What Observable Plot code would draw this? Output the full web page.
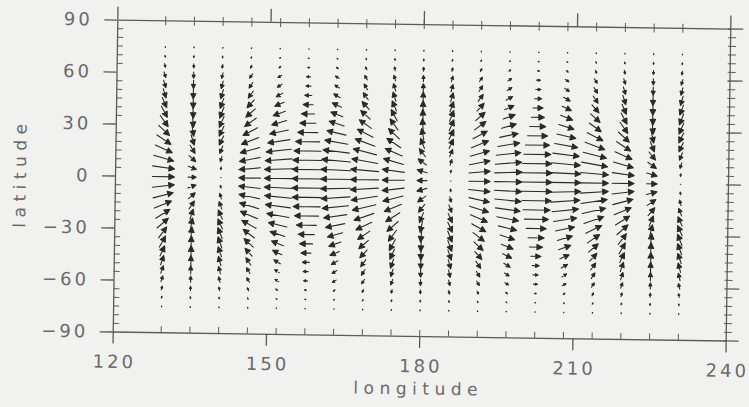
<!DOCTYPE html>
<html><head><meta charset="utf-8">
<script src="https://cdn.jsdelivr.net/npm/d3@7"></script>
<script src="https://cdn.jsdelivr.net/npm/@observablehq/plot@0.6"></script>
<style>
html,body{margin:0;padding:0;background:#f1f1ef;}
#chart{width:749px;height:407px;overflow:hidden;}
#chart svg{transform:rotate(0.84deg);transform-origin:421px 180px;}
</style></head><body><div id="chart"></div>
<script>
// grid (longitude columns, latitude rows from south to north)
const lons = [129.375,135,140.625,146.25,151.875,157.5,163.125,168.75,174.375,180,185.625,191.25,196.875,202.5,208.125,213.75,219.375,225,230.625];
const lats = [-74.9,-69.55,-64.2,-58.85,-53.5,-48.15,-42.8,-37.45,-32.1,-26.75,-21.4,-16.05,-10.7,-5.35,0,5.35,10.7,16.05,21.4,26.75,32.1,37.45,42.8,48.15,53.5,58.85,64.2,69.55,74.9];

// zonal component u per column (south -> north)
const u00 = [0.2,0.5,0.9,1.8,2.3,3,4.5,6,8,11,14,17,20,22,22,22,20,17,14,11,8,6,4.5,3,2.3,1.8,0.9,0.5,0.2];
const u01 = [0,0,0,0,0,0,0,0.4,0.9,1.9,3.2,5.1,6.7,8,8,8,6.7,5.1,3.2,1.9,0.9,0.4,0,0,0,0,0,0,0];
const u02 = [-0.2,-0.4,-0.7,-1.4,-1.8,-2.5,-3.5,-4.1,-4.5,-4.6,-4.2,-2.8,-1.5,-0.5,-0.4,-0.5,-1.5,-2.8,-4.2,-4.6,-4.5,-4.1,-3.5,-2.5,-1.8,-1.4,-0.7,-0.4,-0.2];
const u03 = [-0.4,-0.7,-1.4,-2.9,-3.6,-5,-7.1,-9.3,-11.4,-14.3,-17.2,-19.3,-20.7,-21.5,-21.5,-21.5,-20.7,-19.3,-17.2,-14.3,-11.4,-9.3,-7.1,-5,-3.6,-2.9,-1.4,-0.7,-0.4];
const u04 = [-0.5,-0.9,-1.9,-3.7,-4.6,-6.5,-9.3,-12,-14.8,-18.5,-22.2,-25,-26.8,-27.8,-27.8,-27.8,-26.8,-25,-22.2,-18.5,-14.8,-12,-9.3,-6.5,-4.6,-3.7,-1.9,-0.9,-0.5];
const u05 = [-0.5,-1,-2,-4,-5,-7,-10,-13,-16,-20,-24,-27,-29,-30,-30,-30,-29,-27,-24,-20,-16,-13,-10,-7,-5,-4,-2,-1,-0.5];
const u06 = [-0.5,-0.9,-1.8,-3.7,-4.6,-6.4,-9.2,-12,-15,-19,-23,-26.4,-28.7,-30,-30,-30,-28.7,-26.4,-23,-19,-15,-12,-9.2,-6.4,-4.6,-3.7,-1.8,-0.9,-0.5];
const u07 = [-0.4,-0.7,-1.4,-2.8,-3.6,-5,-7.1,-9.5,-12.1,-15.7,-19.7,-23.3,-26,-27.9,-27.9,-27.9,-26,-23.3,-19.7,-15.7,-12.1,-9.5,-7.1,-5,-3.6,-2.8,-1.4,-0.7,-0.4];
const u08 = [-0.2,-0.5,-0.9,-1.8,-2.3,-3,-4.5,-6,-8,-11,-14,-17,-20,-22,-22,-22,-20,-17,-14,-11,-8,-6,-4.5,-3,-2.3,-1.8,-0.9,-0.5,-0.2];
const u09 = [0,0,0,0,0,0,0,-0.4,-1.1,-2.3,-4,-6.2,-8.1,-9.9,-9.9,-9.9,-8.1,-6.2,-4,-2.3,-1.1,-0.4,0,0,0,0,0,0,0];
const u10 = [0.2,0.4,0.7,1.4,1.8,2.5,3.5,4.1,4.5,4.6,4.2,2.8,1.5,0.5,0.4,0.5,1.5,2.8,4.2,4.6,4.5,4.1,3.5,2.5,1.8,1.4,0.7,0.4,0.2];
const u11 = [0.4,0.7,1.4,2.8,3.5,4.9,7,9.2,11.3,14.1,16.9,19,20.4,21.2,21.2,21.2,20.4,19,16.9,14.1,11.3,9.2,7,4.9,3.5,2.8,1.4,0.7,0.4];
const u12 = [0.5,0.9,1.8,3.6,4.6,6.4,9.1,11.8,14.6,18.2,21.8,24.6,26.4,27.3,27.3,27.3,26.4,24.6,21.8,18.2,14.6,11.8,9.1,6.4,4.6,3.6,1.8,0.9,0.5];
const u13 = [0.5,1,2,4,5,7,10,13,16,20,24,27,29,30,30,30,29,27,24,20,16,13,10,7,5,4,2,1,0.5];
const u14 = [0.5,0.9,1.8,3.7,4.6,6.4,9.2,12,15,19,23,26.4,28.7,30,30,30,28.7,26.4,23,19,15,12,9.2,6.4,4.6,3.7,1.8,0.9,0.5];
const u15 = [0.4,0.7,1.4,2.8,3.6,5,7.1,9.5,12.1,15.7,19.7,23.3,26,27.9,27.9,27.9,26,23.3,19.7,15.7,12.1,9.5,7.1,5,3.6,2.8,1.4,0.7,0.4];
const u16 = [0.2,0.5,0.9,1.8,2.3,3,4.5,6,8,11,14,17,20,22,22,22,20,17,14,11,8,6,4.5,3,2.3,1.8,0.9,0.5,0.2];
const u17 = [0,0,0,0,0,0,0,0.5,1.1,2.5,4.2,6.6,8.6,10.5,10.5,10.5,8.6,6.6,4.2,2.5,1.1,0.5,0,0,0,0,0,0,0];
const u18 = [-0.2,-0.4,-0.7,-1.4,-1.8,-2.5,-3.5,-4.1,-4.5,-4.6,-4.2,-2.8,-1.5,-0.5,-0.4,-0.5,-1.5,-2.8,-4.2,-4.6,-4.5,-4.1,-3.5,-2.5,-1.8,-1.4,-0.7,-0.4,-0.2];
const uCols = [u00,u01,u02,u03,u04,u05,u06,u07,u08,u09,u10,u11,u12,u13,u14,u15,u16,u17,u18];

// meridional component v profiles (south -> north)
const vConvStrong = [1,2,4,6,8,10,11,12,12,11,10,8,6,3,0,-3,-6,-8,-10,-11,-12,-12,-11,-10,-8,-6,-4,-2,-1];
const vConv92 = [0.9,1.8,3.7,5.5,7.4,9.2,10,11,11,10,9.2,7.4,5.5,2.8,0,-2.8,-5.5,-7.4,-9.2,-10,-11,-11,-10,-9.2,-7.4,-5.5,-3.7,-1.8,-0.9];
const vConv71 = [0.7,1.4,2.8,4.3,5.7,7.1,7.8,8.5,8.5,7.8,7.1,5.7,4.3,2.1,0,-2.1,-4.3,-5.7,-7.1,-7.8,-8.5,-8.5,-7.8,-7.1,-5.7,-4.3,-2.8,-1.4,-0.7];
const vConv38 = [0.4,0.8,1.5,2.3,3,3.8,4.2,4.6,4.6,4.2,3.8,3,2.3,1.1,0,-1.1,-2.3,-3,-3.8,-4.2,-4.6,-4.6,-4.2,-3.8,-3,-2.3,-1.5,-0.8,-0.4];
const vZero = [0,0,0,0,0,0,0,0,0,0,0,0,0,0,0,0,0,0,0,0,0,0,0,0,0,0,0,0,0];
const vDiv38 = [-0.4,-0.8,-1.5,-2.3,-3,-3.8,-4.2,-4.6,-4.6,-4.2,-3.8,-3,-2.3,-1.1,0,1.1,2.3,3,3.8,4.2,4.6,4.6,4.2,3.8,3,2.3,1.5,0.8,0.4];
const vDiv71 = [-0.7,-1.4,-2.8,-4.3,-5.7,-7.1,-7.8,-8.5,-8.5,-7.8,-7.1,-5.7,-4.3,-2.1,0,2.1,4.3,5.7,7.1,7.8,8.5,8.5,7.8,7.1,5.7,4.3,2.8,1.4,0.7];
const vDiv92 = [-0.9,-1.8,-3.7,-5.5,-7.4,-9.2,-10,-11,-11,-10,-9.2,-7.4,-5.5,-2.8,0,2.8,5.5,7.4,9.2,10,11,11,10,9.2,7.4,5.5,3.7,1.8,0.9];
const vDivStrong = [-1,-2,-4,-6,-8,-10,-11,-12,-12,-11,-10,-8,-6,-3,0,3,6,8,10,11,12,12,11,10,8,6,4,2,1];
const vCols = [vConv92,vConvStrong,vConv92,vConv71,vConv38,vZero,vDiv38,vDiv71,vDiv92,vDivStrong,vDiv92,vDiv71,vDiv38,vZero,vConv38,vConv71,vConv92,vConvStrong,vConv92];

// axis ticks
const xMajor = [120,150,180,210,240];
const yMajor = [-90,-60,-30,0,30,60,90];
const yMinor = [-85,-80,-75,-70,-65,-55,-50,-45,-40,-35,-25,-20,-15,-10,-5,5,10,15,20,25,35,40,45,50,55,65,70,75,80,85];

const data = [];
lons.forEach((lon, i) => lats.forEach((lat, j) => {
  const u = uCols[i][j], v = vCols[i][j];
  data.push({lon, lat, u, v, len: Math.hypot(u, v), rot: Math.atan2(u, v) * 180 / Math.PI});
}));

const ink = "#2a2a2a", axisInk = "#5a5a5a", textInk = "#6a6a6a";
const arrowShape = {
  draw(context, l) {
    const h = Math.min(5.5, l * 0.5), w = h * 0.5;
    context.moveTo(0, 0); context.lineTo(0, -l);
    if (h > 0.2) { context.moveTo(-w, -l + h); context.lineTo(0, -l); context.lineTo(w, -l + h); context.closePath(); }
  }
};
const fmt = d => d < 0 ? "\u2212" + Math.abs(d) : String(d);

function build(useShape) {
  const vecOpts = {x: "lon", y: "lat", length: "len", rotate: "rot", anchor: "middle",
    stroke: ink, fill: ink, strokeWidth: 1.1, strokeLinecap: "round"};
  if (useShape) vecOpts.shape = arrowShape;
  return Plot.plot({
    width: 749, height: 407,
    marginLeft: 115, marginRight: 21, marginTop: 24, marginBottom: 71,
    style: {background: "transparent", fontFamily: "DejaVu Sans"},
    x: {domain: [120, 240], axis: null},
    y: {domain: [-90, 90], axis: null},
    length: {domain: [0, 30], range: [0, 30]},
    marks: [
      Plot.frame({stroke: axisInk, strokeWidth: 1.3}),
      // left / right ticks
      Plot.ruleY(yMinor, {y: d => d, x1: 120, x2: 120, insetLeft: 0, insetRight: -6, stroke: axisInk}),
      Plot.ruleY(yMajor, {y: d => d, x1: 120, x2: 120, insetLeft: -13, insetRight: 0, stroke: axisInk, strokeWidth: 1.3}),
      Plot.ruleY(yMinor, {y: d => d, x1: 240, x2: 240, insetLeft: -2, insetRight: -6, stroke: axisInk}),
      Plot.ruleY(yMajor, {y: d => d, x1: 240, x2: 240, insetLeft: -2, insetRight: -13, stroke: axisInk, strokeWidth: 1.3}),
      // top / bottom ticks
      Plot.ruleX(lons, {x: d => d, y1: 90, y2: 90, insetTop: -4, insetBottom: -5, stroke: axisInk}),
      Plot.ruleX(xMajor, {x: d => d, y1: 90, y2: 90, insetTop: -13, insetBottom: 0, stroke: axisInk, strokeWidth: 1.3}),
      Plot.ruleX(lons, {x: d => d, y1: -90, y2: -90, insetTop: -6, insetBottom: 0, stroke: axisInk}),
      Plot.ruleX(xMajor, {x: d => d, y1: -90, y2: -90, insetTop: 0, insetBottom: -12, stroke: axisInk, strokeWidth: 1.3}),
      // tick labels
      Plot.text(yMajor, {x: 120, y: d => d, text: fmt, textAnchor: "end", dx: -25, fontSize: 18, fill: textInk}),
      Plot.text(xMajor, {x: d => d, y: -90, text: fmt, dy: 30, dx: 1.5, fontSize: 18, fill: textInk}),
      // axis titles (start-anchored so letter spacing grows in reading direction)
      Plot.text(["longitude"], {frameAnchor: "bottom-left", dx: 241, dy: 58, textAnchor: "start", fontSize: 17, fill: textInk}),
      Plot.text(["latitude"], {frameAnchor: "left", dx: -95, dy: 53, rotate: -90, textAnchor: "start", fontSize: 17, fill: textInk}),
      // wind vectors
      Plot.vector(data, vecOpts)
    ]
  });
}

let svg;
try { svg = build(true); } catch (e) { svg = build(false); }
d3.select(svg).selectAll("text").attr("letter-spacing", "3px");
d3.select(svg).selectAll("text").filter(function () { return /^[a-z]+$/.test(this.textContent); }).attr("letter-spacing", "5.5px");
document.getElementById("chart").appendChild(svg);
</script>
</body></html>
